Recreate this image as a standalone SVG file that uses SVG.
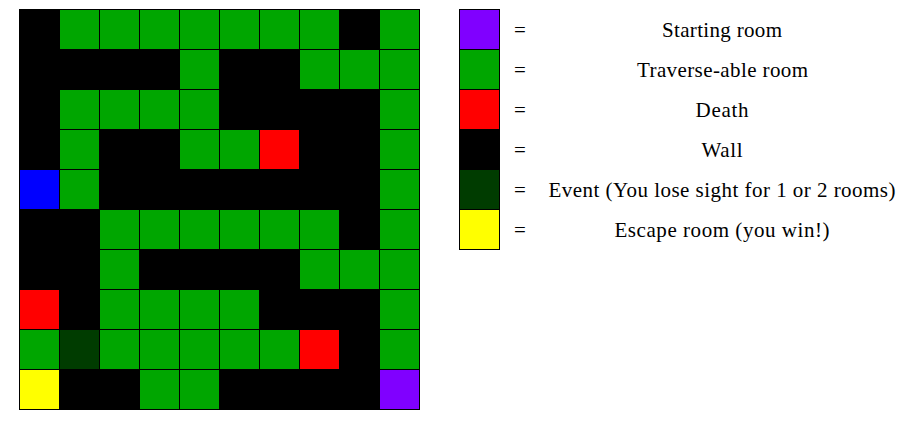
<svg xmlns="http://www.w3.org/2000/svg" width="912" height="427" viewBox="0 0 912 427">
<style>
.c{stroke:#000;stroke-width:1}
.g{fill:#00a600}.k{fill:#000}.r{fill:#ff0000}.b{fill:#0000ff}.p{fill:#8000ff}.y{fill:#ffff00}.d{fill:#003c00}
.t{font-family:"Liberation Serif","Times New Roman",Times,serif;font-size:21px;fill:#000;text-anchor:middle}
</style>
<rect width="912" height="427" fill="#fff"/>
<g id="grid" class="c">
<g transform="translate(19.5,9.5)">
<!-- row 0 -->
<rect class="k" x="0" y="0" width="40" height="40"/><rect class="g" x="40" y="0" width="40" height="40"/><rect class="g" x="80" y="0" width="40" height="40"/><rect class="g" x="120" y="0" width="40" height="40"/><rect class="g" x="160" y="0" width="40" height="40"/><rect class="g" x="200" y="0" width="40" height="40"/><rect class="g" x="240" y="0" width="40" height="40"/><rect class="g" x="280" y="0" width="40" height="40"/><rect class="k" x="320" y="0" width="40" height="40"/><rect class="g" x="360" y="0" width="40" height="40"/>
<!-- row 1 -->
<rect class="k" x="0" y="40" width="40" height="40"/><rect class="k" x="40" y="40" width="40" height="40"/><rect class="k" x="80" y="40" width="40" height="40"/><rect class="k" x="120" y="40" width="40" height="40"/><rect class="g" x="160" y="40" width="40" height="40"/><rect class="k" x="200" y="40" width="40" height="40"/><rect class="k" x="240" y="40" width="40" height="40"/><rect class="g" x="280" y="40" width="40" height="40"/><rect class="g" x="320" y="40" width="40" height="40"/><rect class="g" x="360" y="40" width="40" height="40"/>
<!-- row 2 -->
<rect class="k" x="0" y="80" width="40" height="40"/><rect class="g" x="40" y="80" width="40" height="40"/><rect class="g" x="80" y="80" width="40" height="40"/><rect class="g" x="120" y="80" width="40" height="40"/><rect class="g" x="160" y="80" width="40" height="40"/><rect class="k" x="200" y="80" width="40" height="40"/><rect class="k" x="240" y="80" width="40" height="40"/><rect class="k" x="280" y="80" width="40" height="40"/><rect class="k" x="320" y="80" width="40" height="40"/><rect class="g" x="360" y="80" width="40" height="40"/>
<!-- row 3 -->
<rect class="k" x="0" y="120" width="40" height="40"/><rect class="g" x="40" y="120" width="40" height="40"/><rect class="k" x="80" y="120" width="40" height="40"/><rect class="k" x="120" y="120" width="40" height="40"/><rect class="g" x="160" y="120" width="40" height="40"/><rect class="g" x="200" y="120" width="40" height="40"/><rect class="r" x="240" y="120" width="40" height="40"/><rect class="k" x="280" y="120" width="40" height="40"/><rect class="k" x="320" y="120" width="40" height="40"/><rect class="g" x="360" y="120" width="40" height="40"/>
<!-- row 4 -->
<rect class="b" x="0" y="160" width="40" height="40"/><rect class="g" x="40" y="160" width="40" height="40"/><rect class="k" x="80" y="160" width="40" height="40"/><rect class="k" x="120" y="160" width="40" height="40"/><rect class="k" x="160" y="160" width="40" height="40"/><rect class="k" x="200" y="160" width="40" height="40"/><rect class="k" x="240" y="160" width="40" height="40"/><rect class="k" x="280" y="160" width="40" height="40"/><rect class="k" x="320" y="160" width="40" height="40"/><rect class="g" x="360" y="160" width="40" height="40"/>
<!-- row 5 -->
<rect class="k" x="0" y="200" width="40" height="40"/><rect class="k" x="40" y="200" width="40" height="40"/><rect class="g" x="80" y="200" width="40" height="40"/><rect class="g" x="120" y="200" width="40" height="40"/><rect class="g" x="160" y="200" width="40" height="40"/><rect class="g" x="200" y="200" width="40" height="40"/><rect class="g" x="240" y="200" width="40" height="40"/><rect class="g" x="280" y="200" width="40" height="40"/><rect class="k" x="320" y="200" width="40" height="40"/><rect class="g" x="360" y="200" width="40" height="40"/>
<!-- row 6 -->
<rect class="k" x="0" y="240" width="40" height="40"/><rect class="k" x="40" y="240" width="40" height="40"/><rect class="g" x="80" y="240" width="40" height="40"/><rect class="k" x="120" y="240" width="40" height="40"/><rect class="k" x="160" y="240" width="40" height="40"/><rect class="k" x="200" y="240" width="40" height="40"/><rect class="k" x="240" y="240" width="40" height="40"/><rect class="g" x="280" y="240" width="40" height="40"/><rect class="g" x="320" y="240" width="40" height="40"/><rect class="g" x="360" y="240" width="40" height="40"/>
<!-- row 7 -->
<rect class="r" x="0" y="280" width="40" height="40"/><rect class="k" x="40" y="280" width="40" height="40"/><rect class="g" x="80" y="280" width="40" height="40"/><rect class="g" x="120" y="280" width="40" height="40"/><rect class="g" x="160" y="280" width="40" height="40"/><rect class="g" x="200" y="280" width="40" height="40"/><rect class="k" x="240" y="280" width="40" height="40"/><rect class="k" x="280" y="280" width="40" height="40"/><rect class="k" x="320" y="280" width="40" height="40"/><rect class="g" x="360" y="280" width="40" height="40"/>
<!-- row 8 -->
<rect class="g" x="0" y="320" width="40" height="40"/><rect class="d" x="40" y="320" width="40" height="40"/><rect class="g" x="80" y="320" width="40" height="40"/><rect class="g" x="120" y="320" width="40" height="40"/><rect class="g" x="160" y="320" width="40" height="40"/><rect class="g" x="200" y="320" width="40" height="40"/><rect class="g" x="240" y="320" width="40" height="40"/><rect class="r" x="280" y="320" width="40" height="40"/><rect class="k" x="320" y="320" width="40" height="40"/><rect class="g" x="360" y="320" width="40" height="40"/>
<!-- row 9 -->
<rect class="y" x="0" y="360" width="40" height="40"/><rect class="k" x="40" y="360" width="40" height="40"/><rect class="k" x="80" y="360" width="40" height="40"/><rect class="g" x="120" y="360" width="40" height="40"/><rect class="g" x="160" y="360" width="40" height="40"/><rect class="k" x="200" y="360" width="40" height="40"/><rect class="k" x="240" y="360" width="40" height="40"/><rect class="k" x="280" y="360" width="40" height="40"/><rect class="k" x="320" y="360" width="40" height="40"/><rect class="p" x="360" y="360" width="40" height="40"/>
</g>
</g>
<g id="legend">
<g id="leg-start"><rect class="p c" x="459.5" y="9.5" width="40" height="40"/><text class="t" x="520" y="37">=</text><text class="t" x="722" y="37" textLength="120" lengthAdjust="spacing">Starting room</text></g>
<g id="leg-traverse"><rect class="g c" x="459.5" y="49.5" width="40" height="40"/><text class="t" x="520" y="77">=</text><text class="t" x="722.5" y="77" textLength="171" lengthAdjust="spacing">Traverse-able room</text></g>
<g id="leg-death"><rect class="r c" x="459.5" y="89.5" width="40" height="40"/><text class="t" x="520" y="117">=</text><text class="t" x="722" y="117" textLength="53" lengthAdjust="spacing">Death</text></g>
<g id="leg-wall"><rect class="k c" x="459.5" y="129.5" width="40" height="40"/><text class="t" x="520" y="157">=</text><text class="t" x="722" y="157" textLength="41" lengthAdjust="spacing">Wall</text></g>
<g id="leg-event"><rect class="d c" x="459.5" y="169.5" width="40" height="40"/><text class="t" x="520" y="197">=</text><text class="t" x="722" y="197" textLength="347" lengthAdjust="spacing">Event (You lose sight for 1 or 2 rooms)</text></g>
<g id="leg-escape"><rect class="y c" x="459.5" y="209.5" width="40" height="40"/><text class="t" x="520" y="237">=</text><text class="t" x="722" y="237" textLength="215" lengthAdjust="spacing">Escape room (you win!)</text></g>
</g>
</svg>
